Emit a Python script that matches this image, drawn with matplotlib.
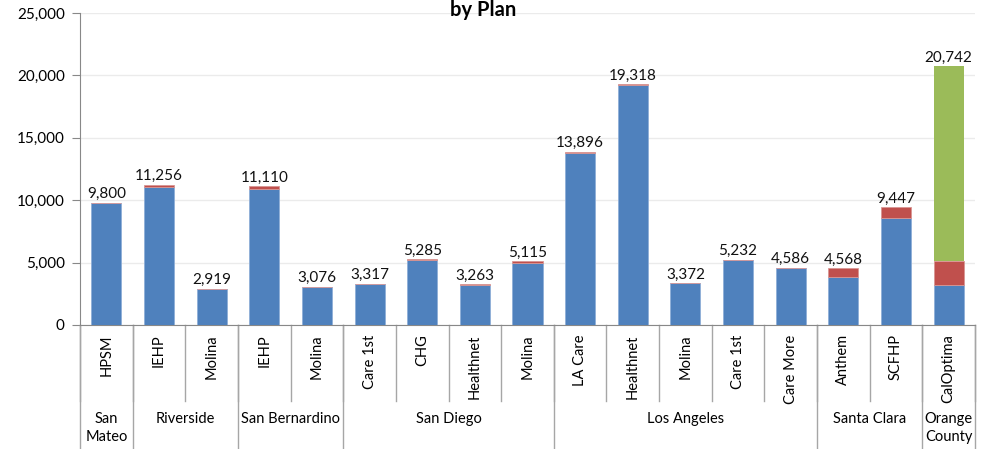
import numpy as np
import matplotlib.pyplot as plt
from matplotlib.transforms import blended_transform_factory

plt.rcParams['font.family'] = ['Lato', 'DejaVu Sans']

# counties and plans
groups = ["San\nMateo", "Riverside", "San Bernardino", "San Diego", "Los Angeles", "Santa Clara", "Orange\nCounty"]
group_sizes = [1, 2, 2, 4, 5, 2, 1]
plans = ["HPSM", "IEHP", "Molina", "IEHP", "Molina", "Care 1st", "CHG", "Healthnet", "Molina",
         "LA Care", "Healthnet", "Molina", "Care 1st", "Care More", "Anthem", "SCFHP", "CalOptima"]
totals = [9800, 11256, 2919, 11110, 3076, 3317, 5285, 3263, 5115,
          13896, 19318, 3372, 5232, 4586, 4568, 9447, 20742]
blue = [9750, 11050, 2890, 10910, 3045, 3260, 5245, 3220, 4985,
        13750, 19220, 3342, 5200, 4545, 3850, 8590, 3180]
red = [t - b for t, b in zip(totals, blue)]
green = [0] * 16 + [15612]
red[-1] = 1950

c_blue = "#4F81BD"
c_red = "#C0504D"
c_green = "#9BBB59"

fig = plt.figure(figsize=(9.81, 4.49), dpi=100)
ax = fig.add_axes([80/981, 124/449, 895/981, 312/449])

x = np.arange(len(plans))
w = 0.57
ax.bar(x, blue, w, color=c_blue, edgecolor="#8FAFD8", linewidth=0.6, zorder=3)
ax.bar(x, red, w, bottom=blue, color=c_red, edgecolor="#D99694", linewidth=0.6, zorder=3)
ax.bar(x, green, w, bottom=np.array(blue) + np.array(red), color=c_green, linewidth=0, zorder=3)

for xi, t in zip(x, totals):
    ax.text(xi, t + 120, f"{t:,}", ha="center", va="bottom", fontsize=11, color="#111111")

ax.set_xlim(-0.5, len(plans) - 0.5)
ax.set_ylim(0, 25000)
ax.set_yticks(np.arange(0, 25001, 5000))
ax.set_yticklabels([f"{v:,}" for v in range(0, 25001, 5000)], fontsize=11)
ax.yaxis.grid(True, color="#EBEBEB", linewidth=1, zorder=0)
ax.tick_params(axis="y", length=6, color="#888888", pad=5)
ax.set_xticks([])
for s in ["top", "right"]:
    ax.spines[s].set_visible(False)
ax.spines["left"].set_color("#888888")
ax.spines["bottom"].set_color("#888888")

tr = blended_transform_factory(ax.transData, ax.transAxes)
# plan labels and separators
for xi, p in zip(x, plans):
    ax.text(xi, -0.03, p, rotation=90, ha="center", va="top", fontsize=10.5, transform=tr)
bounds = np.cumsum([0] + group_sizes) - 0.5
for b in np.arange(-0.5, len(plans)):
    ax.plot([b, b], [0, -0.245], color="#A6A6A6", linewidth=1, transform=tr, clip_on=False)
for b in bounds:
    ax.plot([b, b], [0, -0.395], color="#A6A6A6", linewidth=1, transform=tr, clip_on=False)
for i, g in enumerate(groups):
    cx = (bounds[i] + bounds[i + 1]) / 2
    ax.text(cx, -0.28, g, ha="center", va="top", fontsize=10.5, transform=tr, linespacing=1.35)

fig.text(483/981, 1 - 16/449, "by Plan", ha="center", va="baseline", fontsize=14.5, fontweight="bold")

fig.savefig("out.png", dpi=100)
